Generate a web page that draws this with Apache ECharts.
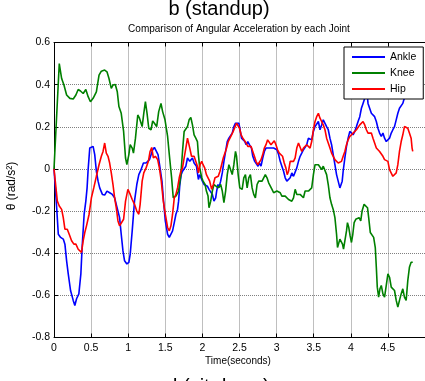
<!DOCTYPE html>
<html><head><meta charset="utf-8">
<script src="https://cdn.jsdelivr.net/npm/echarts@6/dist/echarts.min.js"></script>
<style>html,body{margin:0;padding:0;background:#fff}#c{width:425px;height:381px}</style>
</head><body><div id="c"></div>
<script>
const seriesNames = ['Ankle', 'Knee', 'Hip'];
const seriesColors = ['#0000ff', '#008000', '#ff0000'];
const xMin = 0, xMax = 5, xStep = 0.5;
const yMin = -0.8, yMax = 0.6, yStep = 0.2;

const ankle = [[0,0],[0.036,-0.184],[0.058,-0.31],[0.089,-0.325],[0.125,-0.333],[0.147,-0.357],[0.17,-0.436],[0.192,-0.498],[0.223,-0.577],[0.259,-0.624],[0.281,-0.648],[0.304,-0.616],[0.335,-0.593],[0.362,-0.498],[0.379,-0.373],[0.406,-0.216],[0.429,-0.153],[0.446,-0.09],[0.46,-0.003],[0.482,0.099],[0.504,0.107],[0.527,0.107],[0.549,0.068],[0.571,-0.011],[0.594,-0.058],[0.616,-0.09],[0.652,-0.121],[0.683,-0.124],[0.714,-0.105],[0.75,-0.113],[0.786,-0.121],[0.817,-0.137],[0.839,-0.168],[0.862,-0.2],[0.884,-0.231],[0.906,-0.31],[0.929,-0.388],[0.951,-0.436],[0.982,-0.451],[1.009,-0.443],[1.027,-0.404],[1.054,-0.294],[1.085,-0.153],[1.116,-0.074],[1.143,-0.027],[1.174,-0.003],[1.205,0.028],[1.241,0.028],[1.263,0.02],[1.286,0.044],[1.308,0.052],[1.33,0.091],[1.353,0.102],[1.375,0.099],[1.402,0.068],[1.429,0.005],[1.455,-0.058],[1.473,-0.137],[1.5,-0.247],[1.531,-0.31],[1.554,-0.325],[1.576,-0.318],[1.598,-0.294],[1.621,-0.255],[1.643,-0.215],[1.665,-0.192],[1.679,-0.153],[1.696,-0.074],[1.714,-0.027],[1.732,-0.011],[1.754,-0.019],[1.777,0.013],[1.799,0.052],[1.813,0.06],[1.83,0.036],[1.848,0.028],[1.866,0.052],[1.888,0.028],[1.902,0.036],[1.92,0.013],[1.933,-0.019],[1.946,-0.05],[1.964,-0.027],[1.978,-0.035],[2,-0.058],[2.022,-0.074],[2.045,-0.074],[2.067,-0.082],[2.089,-0.097],[2.112,-0.09],[2.134,-0.121],[2.156,-0.153],[2.179,-0.137],[2.192,-0.105],[2.21,-0.074],[2.223,-0.09],[2.246,-0.058],[2.268,-0.019],[2.29,0.036],[2.313,0.083],[2.335,0.13],[2.357,0.146],[2.379,0.146],[2.402,0.17],[2.424,0.201],[2.446,0.217],[2.469,0.225],[2.491,0.217],[2.504,0.193],[2.527,0.146],[2.545,0.146],[2.571,0.13],[2.589,0.115],[2.612,0.13],[2.634,0.115],[2.661,0.099],[2.679,0.06],[2.705,0.036],[2.728,0.028],[2.75,0.013],[2.768,0.028],[2.79,0.013],[2.813,0.052],[2.835,0.083],[2.857,0.099],[2.879,0.107],[2.906,0.099],[2.929,0.099],[2.96,0.099],[2.982,0.099],[3.004,0.091],[3.027,0.068],[3.049,0.036],[3.071,0.013],[3.094,-0.011],[3.116,-0.042],[3.138,-0.058],[3.161,-0.066],[3.183,-0.042],[3.205,-0.019],[3.228,-0.035],[3.25,-0.027],[3.272,0.005],[3.295,0.036],[3.317,0.06],[3.339,0.075],[3.362,0.091],[3.384,0.099],[3.406,0.115],[3.429,0.146],[3.451,0.154],[3.473,0.138],[3.496,0.178],[3.518,0.201],[3.54,0.209],[3.563,0.225],[3.585,0.186],[3.607,0.209],[3.629,0.233],[3.652,0.225],[3.674,0.201],[3.696,0.186],[3.719,0.146],[3.741,0.115],[3.763,0.068],[3.786,0.02],[3.808,-0.027],[3.83,-0.058],[3.853,-0.09],[3.866,-0.097],[3.884,-0.058],[3.897,-0.011],[3.92,0.052],[3.942,0.107],[3.964,0.146],[3.987,0.178],[4.009,0.186],[4.031,0.162],[4.054,0.178],[4.076,0.201],[4.098,0.225],[4.121,0.248],[4.143,0.288],[4.165,0.311],[4.188,0.335],[4.205,0.37],[4.22,0.36],[4.232,0.311],[4.254,0.288],[4.277,0.264],[4.299,0.256],[4.321,0.248],[4.344,0.225],[4.366,0.193],[4.388,0.17],[4.411,0.154],[4.433,0.17],[4.455,0.146],[4.478,0.13],[4.5,0.123],[4.522,0.146],[4.545,0.17],[4.567,0.186],[4.589,0.201],[4.612,0.233],[4.634,0.264],[4.656,0.288],[4.679,0.28],[4.701,0.311],[4.714,0.327],[4.75,0.36],[4.79,0.4],[4.835,0.42]];

const knee = [[0,0],[0.071,0.5],[0.103,0.429],[0.134,0.398],[0.17,0.351],[0.214,0.335],[0.259,0.332],[0.295,0.351],[0.326,0.377],[0.357,0.37],[0.393,0.358],[0.429,0.377],[0.46,0.343],[0.491,0.319],[0.527,0.335],[0.571,0.366],[0.607,0.445],[0.638,0.464],[0.683,0.469],[0.714,0.461],[0.741,0.429],[0.772,0.382],[0.795,0.398],[0.826,0.401],[0.853,0.366],[0.875,0.296],[0.906,0.264],[0.938,0.178],[0.964,0.052],[0.982,0.02],[1.009,0.068],[1.027,0.115],[1.054,0.099],[1.071,0.075],[1.098,0.146],[1.129,0.256],[1.152,0.241],[1.188,0.201],[1.21,0.264],[1.232,0.319],[1.254,0.264],[1.277,0.193],[1.308,0.186],[1.33,0.228],[1.353,0.217],[1.384,0.201],[1.411,0.272],[1.442,0.311],[1.464,0.272],[1.496,0.233],[1.531,0.154],[1.554,0.068],[1.585,-0.042],[1.607,-0.137],[1.643,-0.129],[1.679,-0.105],[1.71,-0.027],[1.732,0.083],[1.754,0.178],[1.777,0.186],[1.799,0.201],[1.821,0.233],[1.844,0.244],[1.866,0.209],[1.888,0.162],[1.911,0.146],[1.933,0.13],[1.946,0.068],[1.964,0.005],[1.991,-0.042],[2.009,-0.058],[2.036,-0.074],[2.054,-0.105],[2.076,-0.129],[2.089,-0.184],[2.112,-0.153],[2.134,-0.105],[2.156,-0.074],[2.179,-0.066],[2.214,-0.09],[2.246,-0.074],[2.268,-0.105],[2.29,-0.16],[2.313,-0.105],[2.335,-0.027],[2.357,0.02],[2.379,-0.003],[2.402,-0.027],[2.424,0.02],[2.446,0.083],[2.46,0.06],[2.482,-0.027],[2.504,-0.09],[2.536,-0.097],[2.558,-0.042],[2.58,-0.027],[2.603,-0.09],[2.625,-0.042],[2.647,-0.027],[2.67,-0.09],[2.692,-0.121],[2.714,-0.137],[2.737,-0.074],[2.759,-0.058],[2.781,-0.066],[2.804,-0.058],[2.826,-0.042],[2.848,-0.027],[2.871,-0.042],[2.893,-0.066],[2.915,-0.074],[2.938,-0.097],[2.96,-0.113],[2.982,-0.113],[3.004,-0.105],[3.027,-0.097],[3.049,-0.113],[3.071,-0.129],[3.094,-0.121],[3.116,-0.129],[3.138,-0.137],[3.161,-0.145],[3.183,-0.137],[3.205,-0.153],[3.228,-0.137],[3.25,-0.097],[3.272,-0.121],[3.295,-0.113],[3.317,-0.121],[3.339,-0.129],[3.362,-0.137],[3.384,-0.105],[3.406,-0.097],[3.429,-0.105],[3.451,-0.097],[3.473,-0.09],[3.496,-0.027],[3.518,0.02],[3.54,0.028],[3.563,0.02],[3.585,0.013],[3.607,-0.003],[3.629,0.013],[3.652,0.005],[3.674,-0.027],[3.696,-0.074],[3.719,-0.137],[3.741,-0.168],[3.763,-0.192],[3.786,-0.231],[3.808,-0.31],[3.821,-0.373],[3.839,-0.365],[3.853,-0.333],[3.875,-0.325],[3.888,-0.357],[3.902,-0.38],[3.92,-0.341],[3.942,-0.294],[3.955,-0.255],[3.973,-0.278],[3.991,-0.318],[4.009,-0.349],[4.027,-0.31],[4.045,-0.255],[4.067,-0.239],[4.089,-0.239],[4.112,-0.231],[4.134,-0.247],[4.152,-0.2],[4.179,-0.168],[4.201,-0.168],[4.225,-0.184],[4.241,-0.231],[4.263,-0.302],[4.286,-0.294],[4.308,-0.325],[4.33,-0.373],[4.344,-0.467],[4.357,-0.561],[4.375,-0.608],[4.393,-0.569],[4.411,-0.553],[4.433,-0.593],[4.455,-0.608],[4.478,-0.553],[4.5,-0.498],[4.522,-0.514],[4.545,-0.561],[4.567,-0.569],[4.589,-0.577],[4.612,-0.624],[4.634,-0.656],[4.656,-0.624],[4.679,-0.593],[4.701,-0.569],[4.723,-0.608],[4.746,-0.624],[4.768,-0.53],[4.79,-0.467],[4.813,-0.443],[4.835,-0.443]];

const hip = [[0,0],[0.022,0],[0.045,-0.153],[0.071,-0.176],[0.103,-0.192],[0.125,-0.231],[0.147,-0.286],[0.179,-0.286],[0.205,-0.31],[0.237,-0.341],[0.268,-0.357],[0.295,-0.357],[0.326,-0.381],[0.348,-0.388],[0.371,-0.396],[0.393,-0.341],[0.415,-0.302],[0.438,-0.27],[0.473,-0.215],[0.504,-0.137],[0.536,-0.09],[0.571,-0.035],[0.607,0.02],[0.638,0.06],[0.661,0.083],[0.683,0.123],[0.705,0.075],[0.728,0.06],[0.75,0.028],[0.772,-0.019],[0.795,-0.074],[0.817,-0.137],[0.839,-0.184],[0.862,-0.247],[0.884,-0.27],[0.906,-0.27],[0.938,-0.239],[0.964,-0.153],[0.996,-0.097],[1.027,-0.121],[1.054,-0.145],[1.085,-0.168],[1.116,-0.2],[1.143,-0.215],[1.161,-0.168],[1.188,-0.058],[1.21,-0.019],[1.241,0.005],[1.272,0.036],[1.295,0.083],[1.317,0.102],[1.339,0.052],[1.366,0.06],[1.397,0.044],[1.42,0.005],[1.446,-0.058],[1.473,-0.153],[1.5,-0.215],[1.531,-0.278],[1.554,-0.294],[1.576,-0.27],[1.598,-0.215],[1.621,-0.137],[1.643,-0.121],[1.665,-0.09],[1.688,-0.042],[1.71,-0.011],[1.732,0.005],[1.754,0.052],[1.777,0.099],[1.799,0.146],[1.813,0.138],[1.83,0.099],[1.853,0.06],[1.866,0.068],[1.888,0.06],[1.911,0.052],[1.933,0.013],[1.946,-0.019],[1.969,0.02],[1.991,0.036],[2.009,0.02],[2.031,0.005],[2.054,-0.027],[2.076,-0.035],[2.098,-0.058],[2.125,-0.097],[2.147,-0.074],[2.17,-0.042],[2.192,-0.035],[2.214,-0.035],[2.237,-0.011],[2.259,0.02],[2.281,0.052],[2.304,0.075],[2.326,0.099],[2.348,0.13],[2.371,0.138],[2.393,0.162],[2.415,0.178],[2.438,0.186],[2.46,0.217],[2.478,0.225],[2.5,0.193],[2.522,0.162],[2.545,0.146],[2.567,0.154],[2.589,0.123],[2.612,0.107],[2.634,0.115],[2.656,0.107],[2.679,0.083],[2.701,0.06],[2.723,0.036],[2.746,0.02],[2.768,0.028],[2.79,0.044],[2.813,0.068],[2.835,0.099],[2.857,0.115],[2.879,0.138],[2.902,0.13],[2.924,0.115],[2.946,0.123],[2.969,0.134],[2.991,0.115],[3.013,0.091],[3.036,0.075],[3.058,0.068],[3.08,0.06],[3.103,0.028],[3.125,0.005],[3.143,-0.027],[3.161,-0.011],[3.183,0.036],[3.205,0.044],[3.228,0.036],[3.25,0.052],[3.272,0.099],[3.295,0.123],[3.317,0.115],[3.339,0.083],[3.362,0.099],[3.384,0.091],[3.406,0.115],[3.429,0.107],[3.451,0.099],[3.473,0.13],[3.496,0.186],[3.518,0.225],[3.54,0.248],[3.563,0.264],[3.585,0.241],[3.607,0.225],[3.629,0.209],[3.652,0.186],[3.674,0.146],[3.696,0.123],[3.719,0.099],[3.741,0.075],[3.763,0.06],[3.786,0.044],[3.808,0.036],[3.83,0.028],[3.853,0.036],[3.875,0.036],[3.897,0.06],[3.92,0.083],[3.942,0.115],[3.964,0.138],[3.987,0.154],[4.009,0.162],[4.031,0.17],[4.054,0.17],[4.076,0.186],[4.098,0.193],[4.121,0.209],[4.143,0.217],[4.165,0.225],[4.188,0.209],[4.21,0.186],[4.232,0.17],[4.254,0.178],[4.277,0.17],[4.299,0.146],[4.321,0.123],[4.344,0.099],[4.366,0.099],[4.388,0.083],[4.411,0.075],[4.433,0.06],[4.455,0.044],[4.478,0.052],[4.5,0.036],[4.522,-0.003],[4.545,-0.011],[4.567,-0.035],[4.589,-0.042],[4.612,-0.019],[4.634,0.02],[4.656,0.083],[4.679,0.13],[4.701,0.162],[4.723,0.201],[4.746,0.209],[4.768,0.193],[4.79,0.17],[4.813,0.146],[4.826,0.099],[4.835,0.083]];

const seriesData = [ankle, knee, hip];
const FONT = "'Liberation Sans', Arial, sans-serif";
const fmt = v => String(Math.round(v * 10) / 10);

const chart = echarts.init(document.getElementById('c'), null, {renderer: 'canvas'});
const axisCommon = {
  axisLine: {show: true, onZero: false, lineStyle: {color: '#000', width: 1}},
  axisTick: {show: true, inside: true, length: 4, lineStyle: {color: '#000', width: 1}},
};
chart.setOption({
  animation: false,
  backgroundColor: '#fff',
  grid: {left: 54, top: 42.5, width: 373, height: 295, containLabel: false},
  legend: {
    data: seriesNames.map(n => ({name: n, icon: 'rect'})),
    orient: 'vertical', left: 344, top: 47,
    itemWidth: 33, itemHeight: 2, itemGap: 4,
    padding: [4, 7, 4, 8],
    backgroundColor: '#fff', borderColor: '#000', borderWidth: 1, borderRadius: 0,
    textStyle: {fontFamily: FONT, fontSize: 10.5, color: '#000', lineHeight: 12},
    selectedMode: false, z: 10
  },
  xAxis: [
    Object.assign({type: 'value', min: xMin, max: xMax, interval: xStep, position: 'bottom',
      axisLabel: {show: true, color: '#000', fontFamily: FONT, fontSize: 10.5, margin: 5, formatter: fmt, showMaxLabel: false},
      splitLine: {show: true, lineStyle: {color: '#808080', type: 'dotted', width: 1}}
    }, axisCommon),
    Object.assign({type: 'value', min: xMin, max: xMax, interval: xStep, position: 'top',
      axisLabel: {show: false}, splitLine: {show: false}
    }, axisCommon)
  ],
  yAxis: [
    Object.assign({type: 'value', min: yMin, max: yMax, interval: yStep, position: 'left',
      axisLabel: {show: true, color: '#000', fontFamily: FONT, fontSize: 10.5, margin: 4, formatter: fmt},
      splitLine: {show: true, lineStyle: {color: '#808080', type: 'dotted', width: 1}}
    }, axisCommon)
  ],
  series: seriesNames.map((n, i) => ({
    name: n, type: 'line', xAxisIndex: 0, yAxisIndex: 0,
    data: seriesData[i], showSymbol: false, symbol: 'none',
    lineStyle: {color: seriesColors[i], width: 1.6}, itemStyle: {color: seriesColors[i]},
    z: 2 + i
  })),
  graphic: [
    {type: 'text', x: 219, y: 9, style: {text: 'b (standup)', font: "20px " + FONT, fill: '#000', align: 'center', verticalAlign: 'middle'}},
    {type: 'text', x: 239, y: 29, style: {text: 'Comparison of Angular Acceleration by each Joint', font: "10px " + FONT, fill: '#000', align: 'center', verticalAlign: 'middle'}},
    {type: 'text', x: 238, y: 361, style: {text: 'Time(seconds)', font: "10px " + FONT, fill: '#000', align: 'center', verticalAlign: 'middle'}},
    {type: 'text', x: 12, y: 186, rotation: Math.PI / 2, style: {text: 'θ (rad/s²)', font: "12px " + FONT, fill: '#000', align: 'center', verticalAlign: 'middle'}},
    {type: 'text', x: 218, y: 387, style: {text: 'd (sit down)', font: "20px " + FONT, fill: '#000', align: 'center', verticalAlign: 'middle'}}
  ]
});
</script>
</body></html>
